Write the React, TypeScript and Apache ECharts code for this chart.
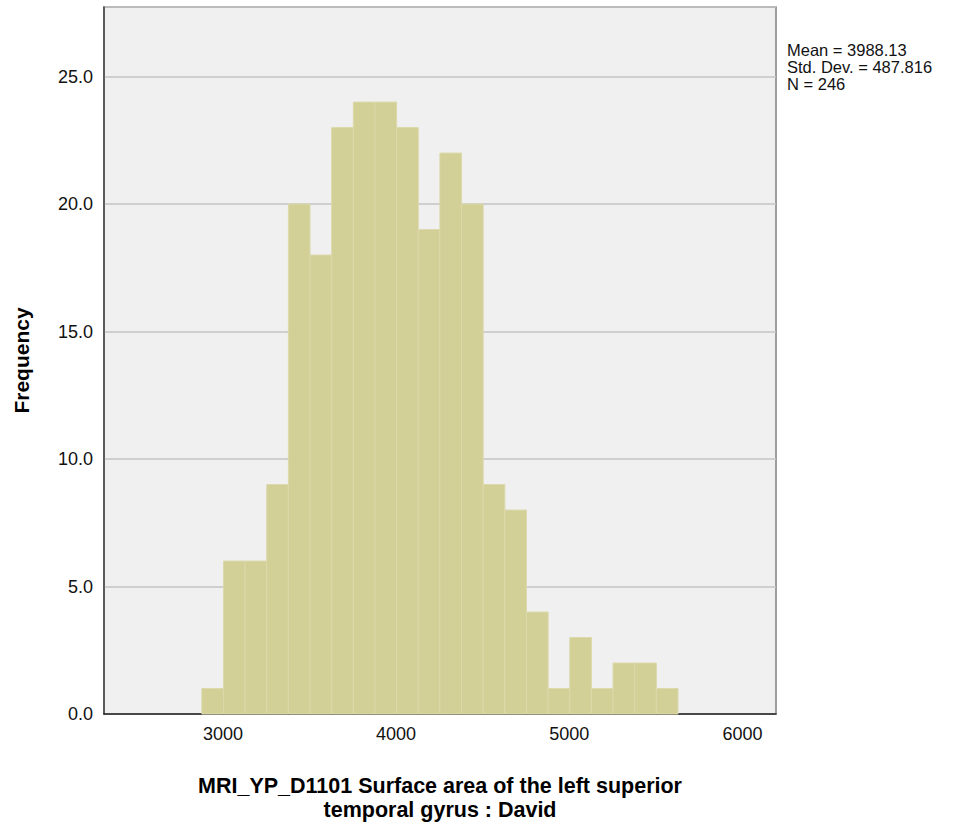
import React, { useEffect, useRef } from "react";
import * as echarts from "echarts";

const binLower: number[] = [2878, 3003, 3128, 3253, 3378, 3503, 3628, 3753, 3878, 4003, 4128, 4253, 4378, 4503, 4628, 4753, 4878, 5003, 5128, 5253, 5378, 5503];
const binWidth = 125;
const frequencies: number[] = [1, 6, 6, 9, 20, 18, 23, 24, 24, 23, 19, 22, 20, 9, 8, 4, 1, 3, 1, 2, 2, 1];
const xTickValues: number[] = [3000, 4000, 5000, 6000];
const statsLines: string[] = ["Mean = 3988.13", "Std. Dev. = 487.816", "N = 246"];
const xTitle = "MRI_YP_D1101 Surface area of the left superior\ntemporal gyrus : David";
const yTitle = "Frequency";

const FONT = "Liberation Sans, Arial, sans-serif";

export default function App() {
  const ref = useRef<HTMLDivElement>(null);
  useEffect(() => {
    if (!ref.current) return;
    const chart = echarts.init(ref.current, undefined, { renderer: "svg" });
    const data = frequencies.map((f, i) => [binLower[i], binLower[i] + binWidth, f]);
    chart.setOption({
      animation: false,
      backgroundColor: "#ffffff",
      grid: {
        left: 104,
        right: 177,
        top: 7,
        bottom: 111,
        outerBoundsMode: "none",
        containLabel: false,
        show: true,
        backgroundColor: "#f0f0f0",
        borderColor: "#808080",
        borderWidth: 1.5,
      },
      xAxis: {
        type: "value",
        min: 2313,
        max: 6194,
        axisLine: { show: true, onZero: false, lineStyle: { color: "#222", width: 1.5 } },
        axisTick: { show: false },
        splitLine: { show: false },
        axisLabel: {
          color: "#111",
          fontFamily: FONT,
          fontSize: 18,
          margin: 11,
          customValues: xTickValues,
          formatter: (v: number) => String(v),
        },
        name: xTitle,
        nameLocation: "middle",
        nameGap: 60,
        nameTextStyle: {
          color: "#000",
          fontFamily: FONT,
          fontSize: 21.5,
          fontWeight: "bold",
          lineHeight: 24,
        },
      },
      yAxis: {
        type: "value",
        min: 0,
        max: 27.73,
        interval: 5,
        axisLine: { show: true, lineStyle: { color: "#444", width: 1.5 } },
        axisTick: { show: false },
        splitLine: { show: true, lineStyle: { color: "#c4c4c4", width: 1.5 } },
        axisLabel: {
          color: "#111",
          fontFamily: FONT,
          fontSize: 18,
          margin: 11,
          formatter: (v: number) => v.toFixed(1),
          showMaxLabel: false,
        },
        name: yTitle,
        nameLocation: "middle",
        nameGap: 72,
        nameTextStyle: {
          color: "#000",
          fontFamily: FONT,
          fontSize: 21,
          fontWeight: "bold",
        },
      },
      series: [
        {
          type: "custom",
          renderItem: (params: any, api: any) => {
            const x0 = api.value(0);
            const x1 = api.value(1);
            const y = api.value(2);
            const p0 = api.coord([x0, y]);
            const p1 = api.coord([x1, 0]);
            return {
              type: "rect",
              shape: { x: p0[0], y: p0[1], width: p1[0] - p0[0], height: p1[1] - p0[1] },
              style: { fill: "#d2cf97", stroke: "#dcd9ab", lineWidth: 1 },
            };
          },
          encode: { x: [0, 1], y: 2 },
          data,
          z: 2,
        },
      ],
      graphic: [
        {
          type: "text",
          left: 787,
          top: 41,
          style: {
            text: statsLines.join("\n"),
            fontFamily: FONT,
            fontSize: 16.5,
            lineHeight: 17,
            fill: "#111",
          },
        },
      ],
    });
    return () => chart.dispose();
  }, []);
  return <div ref={ref} style={{ width: 953, height: 825, position: "absolute", left: 0, top: 0 }} />;
}
